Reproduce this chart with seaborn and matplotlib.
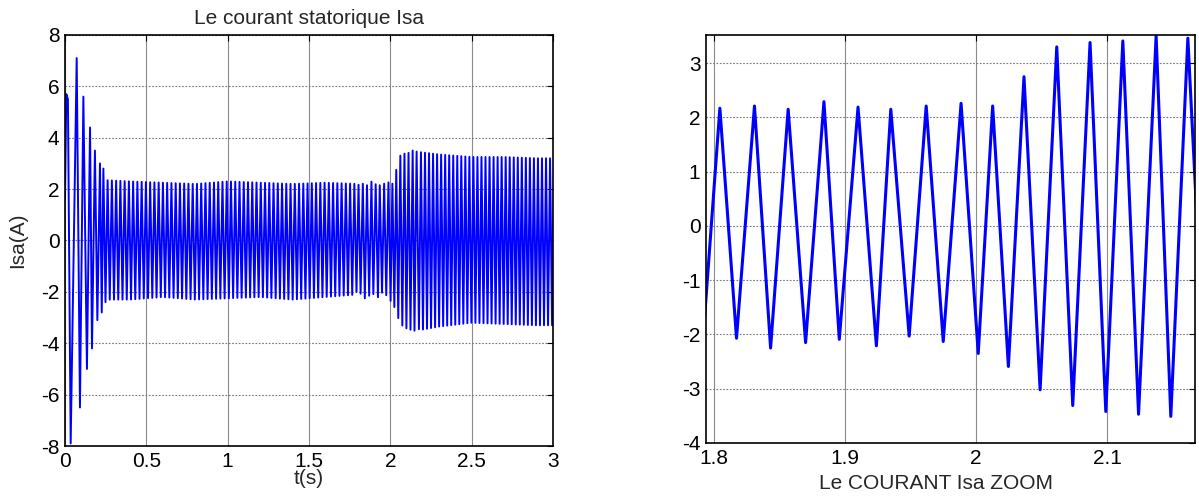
import numpy as np
import pandas as pd
import matplotlib
matplotlib.use("Agg")
import matplotlib.pyplot as plt
import seaborn as sns

# ---- start-up transient: successive extrema of the stator current (t [s], Isa [A])
start_t = [0.0, 0.008, 0.018, 0.035, 0.072, 0.092, 0.113, 0.135, 0.154, 0.166,
           0.184, 0.199, 0.215, 0.226, 0.236, 0.249]
start_i = [1.6, 5.7, 5.5, -7.9, 7.1, -6.5, 5.6, -5.0, 4.4, -4.2,
           3.5, -3.1, 3.0, -2.8, 2.8, -2.4]

# ---- zoomed window around the load step: peaks and troughs
zoom_t = [1.792, 1.8046, 1.8173, 1.831, 1.8433, 1.8567, 1.870, 1.884, 1.8957, 1.910,
          1.924, 1.935, 1.949, 1.962, 1.975, 1.9886, 2.0017, 2.0127, 2.0247, 2.0366,
          2.0489, 2.0616, 2.0738, 2.087, 2.099, 2.112, 2.124, 2.1374, 2.1486, 2.1616,
          2.176]
zoom_i = [-2.0, 2.17, -2.07, 2.21, -2.25, 2.15, -2.15, 2.29, -2.09, 2.19,
          -2.21, 2.15, -2.03, 2.21, -2.13, 2.26, -2.35, 2.21, -2.59, 2.75,
          -3.02, 3.30, -3.31, 3.38, -3.42, 3.41, -3.47, 3.50, -3.51, 3.46,
          -3.45]

# ---- steady-state envelopes before and after the load step
pre_env_t = [0.25, 0.4, 0.6, 0.8, 1.0, 1.2, 1.4, 1.6, 1.8]
pre_env_hi = [2.35, 2.3, 2.25, 2.2, 2.3, 2.25, 2.2, 2.25, 2.2]
pre_env_lo = [-2.3, -2.3, -2.2, -2.3, -2.25, -2.2, -2.3, -2.2, -2.1]
pre_half_cycles = 118          # half-cycles between end of start-up and zoom window

post_env_t = [2.17, 2.3, 2.5, 2.7, 2.9, 3.0]
post_env_hi = [3.45, 3.35, 3.25, 3.25, 3.2, 3.2]
post_env_lo = [-3.5, -3.35, -3.2, -3.25, -3.3, -3.3]
post_half_period = 0.0124


def alternating_extrema(times, env_t, env_hi, env_lo):
    """Peak/trough sequence (starting with a peak) following the given envelopes."""
    times = np.asarray(times)
    hi = np.interp(times, env_t, env_hi)
    lo = np.interp(times, env_t, env_lo)
    vals = np.where(np.arange(len(times)) % 2 == 0, hi, lo)
    return list(times), list(vals)


pre_times = np.linspace(start_t[-1], zoom_t[0], pre_half_cycles + 1)[1:-1]
pre_t, pre_i = alternating_extrema(pre_times, pre_env_t, pre_env_hi, pre_env_lo)
post_times = np.arange(zoom_t[-1] + post_half_period, 3.0 + post_half_period, post_half_period)
post_t, post_i = alternating_extrema(post_times, post_env_t, post_env_hi, post_env_lo)

full = pd.DataFrame({
    "t": start_t + pre_t + zoom_t + post_t,
    "Isa": start_i + pre_i + zoom_i + post_i,
})
zoom = pd.DataFrame({"t": zoom_t, "Isa": zoom_i})

sns.set_style("white")
plt.rcParams["font.family"] = ["Liberation Sans", "DejaVu Sans"]
plt.rcParams["axes.unicode_minus"] = False

FS = 15

fig = plt.figure(figsize=(11.99, 4.97), dpi=100)
ax1 = fig.add_axes([0.0542, 0.1026, 0.4070, 0.8270])
ax2 = fig.add_axes([0.5888, 0.1087, 0.4078, 0.8210])

blue = "#0000ff"
sns.lineplot(data=full, x="t", y="Isa", ax=ax1, color=blue, lw=1.4,
             sort=False, estimator=None)
sns.lineplot(data=zoom, x="t", y="Isa", ax=ax2, color=blue, lw=2.2,
             sort=False, estimator=None)


def matlab_axes(ax):
    ax.set_axisbelow(True)
    ax.xaxis.grid(True, color="#8c8c8c", lw=0.8, ls="-")
    ax.yaxis.grid(True, color="#777777", lw=0.8, ls=(0, (1.5, 1.5)))
    for s in ax.spines.values():
        s.set_color("black")
        s.set_linewidth(1.2)
        s.set_visible(True)
    ax.tick_params(direction="in", top=True, right=True, length=4, width=0.8,
                   labelsize=FS, colors="black", pad=4)


# left: full simulation
ax1.set_xlim(0, 3)
ax1.set_ylim(-8, 8)
ax1.set_xticks([0, 0.5, 1, 1.5, 2, 2.5, 3])
ax1.set_xticklabels(["0", "0.5", "1", "1.5", "2", "2.5", "3"])
ax1.set_yticks(range(-8, 9, 2))
matlab_axes(ax1)
ax1.set_title("Le courant statorique Isa", fontsize=FS, pad=8)
ax1.set_xlabel("t(s)", fontsize=FS, labelpad=-1)
ax1.set_ylabel("Isa(A)", fontsize=FS, labelpad=10)

# right: zoom around the load step
ax2.set_xlim(1.794, 2.167)
ax2.set_ylim(-4, 3.52)
ax2.set_xticks([1.8, 1.9, 2.0, 2.1])
ax2.set_xticklabels(["1.8", "1.9", "2", "2.1"])
ax2.set_yticks(range(-4, 4))
matlab_axes(ax2)
ax2.set_xlabel("Le COURANT Isa ZOOM", fontsize=FS, labelpad=1)
ax2.xaxis.set_label_coords(0.47, -0.075)
ax2.set_ylabel("")

fig.savefig("out.png", dpi=100)
